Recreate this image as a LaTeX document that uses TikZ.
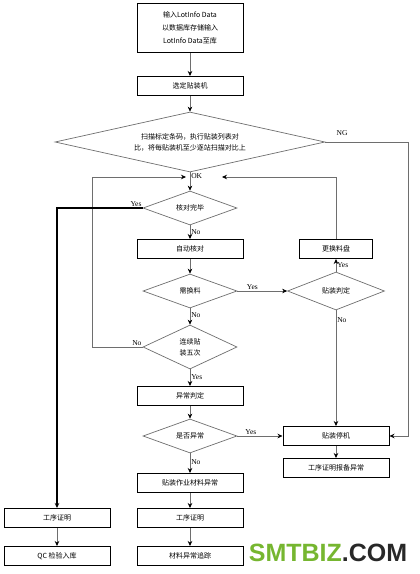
\documentclass[tikz,border=0pt]{standalone}
\usepackage{fontspec}
\setmainfont{Liberation Serif}
\newfontfamily\cjk{Noto Sans CJK SC}
\newfontfamily\logofont{Liberation Sans}
\usepackage{tikz}
\usetikzlibrary{shapes.geometric, positioning, arrows.meta}
\definecolor{LineGray}{RGB}{110,110,110}
\definecolor{LogoGreen}{RGB}{118,182,48}
\definecolor{LogoDark}{RGB}{40,40,40}

\begin{document}
\begin{tikzpicture}[x=1pt, y=-1pt,
          box/.style={rectangle, draw=black, line width=1pt, minimum width=106pt,
                      minimum height=19pt, inner sep=1pt, font=\cjk\fontsize{7}{9}\selectfont, align=center},
          choice/.style={diamond, draw=LineGray, line width=0.7pt, minimum width=94pt,
                      minimum height=34pt, inner sep=0pt, aspect=2.8,
                      font=\cjk\fontsize{7}{11}\selectfont, align=center},
          arr/.style={-{Stealth[length=5pt, width=4.5pt, color=black]}, draw=LineGray, line width=0.6pt},
          lbl/.style={font=\fontsize{7.5}{8}\selectfont, inner sep=1pt}
        ]
        \useasboundingbox (0,0) rectangle (420,574);

        % main column
        \node[box, minimum height=49pt, font=\cjk\fontsize{7}{13}\selectfont]
              (input) at (190,28) {输入LotInfo Data\\以数据库存储输入\\LotInfo Data至库};
        \node[box] (machine) at (190,86) {选定贴装机};
        \node[choice, minimum width=270pt, minimum height=60pt, aspect=4.5]
              (scan) at (190,142) {扫描标定条码，执行贴装列表对\\比，将每贴装机至少逐站扫描对比上};
        \node[choice] (done)   at (190,208) {核对完毕};
        \node[box]    (auto)   at (190,249) {自动核对};
        \node[choice] (swap)   at (190,291) {需换料};
        \node[choice, minimum height=44pt] (five) at (190,347) {连续贴\\装五次};
        \node[box]    (judge)  at (190,396) {异常判定};
        \node[choice] (isabn)  at (190,436) {是否异常};
        \node[box]    (mater)  at (190,483) {贴装作业材料异常};
        \node[box]    (proofM) at (190,518) {工序证明};
        \node[box]    (trace)  at (190,556) {材料异常追踪};

        % right column
        \node[box, minimum width=73pt] (reel)  at (336,249) {更换料盘};
        \node[choice, minimum width=97pt, minimum height=38pt] (check) at (336,291) {贴装判定};
        \node[box]    (stop)   at (336,436) {贴装停机};
        \node[box]    (report) at (336,468) {工序证明报备异常};

        % left column
        \node[box] (proofL) at (57,518) {工序证明};
        \node[box] (qc)     at (57,556) {QC 检验入库};

        % logo
        \node[font=\logofont\bfseries\fontsize{25}{25}\selectfont, inner sep=0pt]
              (logo) at (328,553) {\textcolor{LogoGreen}{SMTBIZ}\textcolor{LogoDark}{.COM}};

        % loop points
        \coordinate (okL)  at (186,177);
        \coordinate (okR)  at (222,177);
        \coordinate (lcol) at (92,177);
        \coordinate (ngc)  at (408,142);

        \draw[arr] (input)--(machine);
        \draw[arr] (machine)--(scan);
        \draw[arr] (scan)--(done) node[lbl, pos=0.22, right] (ok) {OK};
        \draw[arr] (done)--(auto) node[lbl, midway, right] (no1) {No};
        \draw[arr] (auto)--(swap);
        \draw[arr] (swap)--(five) node[lbl, pos=0.4, right] (no2) {No};
        \draw[arr] (five)--(judge) node[lbl, pos=0.45, right] (yes4) {Yes};
        \draw[arr] (judge)--(isabn);
        \draw[arr] (isabn)--(mater) node[lbl, pos=0.45, right] (no5) {No};
        \draw[arr] (mater)--(proofM);
        \draw[arr] (proofM)--(trace);

        \draw[arr] (swap)--(check) node[lbl, pos=0.3, above] (yes2) {Yes};
        \draw[arr] (check)--(reel) node[lbl, midway, right] (yes3) {Yes};
        \draw[arr] (check)--(stop) node[lbl, pos=0.08, right] (no3) {No};
        \draw[arr] (isabn)--(stop) node[lbl, pos=0.3, above] (yes5) {Yes};
        \draw[arr] (stop)--(report);

        \draw[arr] (reel.north) |- (okR);
        \draw[arr] (five.west) -| (lcol) -- (okL);
        \node[lbl, above left] (no4) at (five.west) {No};
        \draw[arr] (scan.east) -- (ngc) |- (stop.east);
        \node[lbl] (ng) at (342,133) {NG};

        \draw[arr, draw=black, line width=1.2pt] (done.west) -| (proofL.north);
        \node[lbl, above left] (yes1) at (done.west) {Yes};
        \draw[arr] (proofL)--(qc);
      \end{tikzpicture}
\end{document}
